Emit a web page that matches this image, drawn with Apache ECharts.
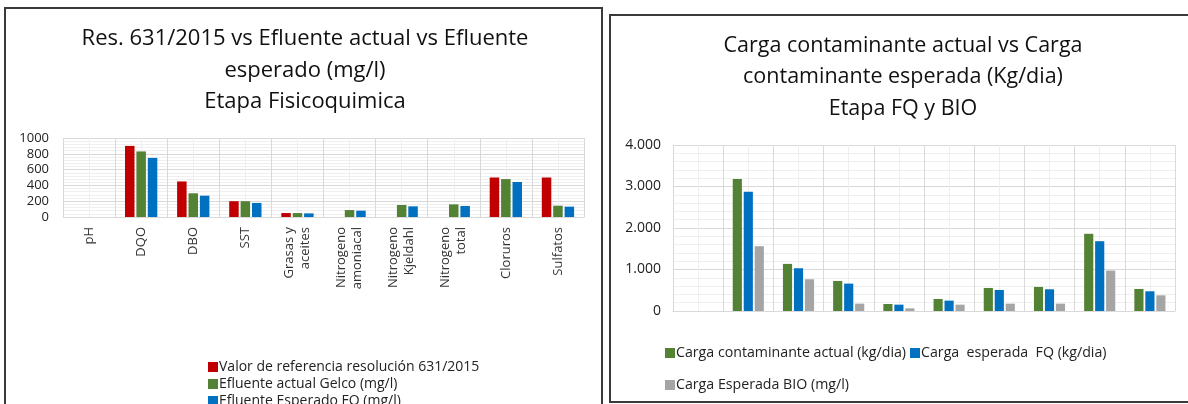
<!DOCTYPE html>
<html><head><meta charset="utf-8">
<script src="https://cdn.jsdelivr.net/npm/echarts@6/dist/echarts.min.js"></script>
<style>html,body{margin:0;padding:0;background:#fff}#c{width:1188px;height:404px}</style>
</head><body><div id="c"></div>
<script>
const categories = ['pH','DQO','DBO','SST','Grasas y\naceites','Nitrogeno\namoniacal','Nitrogeno\nKjeldahl','Nitrogeno\ntotal','Cloruros','Sulfatos'];
const leftNames = ['Valor de referencia resolución 631/2015','Efluente actual Gelco (mg/l)','Efluente Esperado FQ (mg/l)'];
const valorReferencia = [null, 900, 450, 200, 50, null, null, null, 500, 500];
const efluenteActual = [null, 830, 300, 200, 50, 88, 152, 160, 480, 143];
const efluenteEsperadoFQ = [null, 748, 270, 178, 46, 80, 135, 140, 443, 131];
const rightNames = ['Carga contaminante actual (kg/dia)','Carga  esperada  FQ (kg/dia)','Carga Esperada BIO (mg/l)'];
const cargaActual = [null, 3180, 1135, 724, 169, 290, 555, 580, 1860, 531];
const cargaEsperadaFQ = [null, 2873, 1030, 660, 153, 250, 507, 523, 1682, 475];
const cargaEsperadaBIO = [null, 1561, 765, 177, 64, 153, 177, 177, 974, 378];
const leftTitle = 'Res. 631/2015 vs Efluente actual vs Efluente\nesperado (mg/l)\nEtapa Fisicoquimica';
const rightTitle = 'Carga contaminante actual vs Carga\ncontaminante esperada (Kg/dia)\nEtapa FQ y BIO';

const FONT = 'Open Sans';
const colors = {red:'#C00000', green:'#548235', blue:'#0070C0', gray:'#A5A5A5'};
const major = '#D9D9D9', minor = '#EFEFEF';
const chart = echarts.init(document.getElementById('c'));
function fmtDot(v){ return String(v).replace(/\B(?=(\d{3})+(?!\d))/g,'.'); }
const bar = (name, data, color, xi, yi) => ({type:'bar', name, data, xAxisIndex:xi, yAxisIndex:yi,
  itemStyle:{color}, barGap:'20%', barCategoryGap:'38%'});
const leg = (names, left, top, size) => ({data:names, left, top, itemWidth:10, itemHeight:10, itemGap:4,
  icon:'rect', textStyle:{fontFamily:FONT, fontSize:size, color:'#222', padding:[0,0,0,-4]}});
chart.setOption({
  animation:false,
  textStyle:{fontFamily:FONT},
  title:[
    {text:leftTitle, left:300, top:18, textAlign:'center',
     textStyle:{fontFamily:FONT, fontSize:22, fontWeight:'normal', color:'#111', lineHeight:31.5}},
    {text:rightTitle, left:898, top:25, textAlign:'center',
     textStyle:{fontFamily:FONT, fontSize:21.5, fontWeight:'normal', color:'#111', lineHeight:31.5}}
  ],
  legend:[
    leg([leftNames[0]], 203, 355, 14),
    leg([leftNames[1]], 203, 372, 14),
    leg([leftNames[2]], 203, 389, 14),
    leg(rightNames.slice(0,2), 660, 341, 14.2),
    leg(rightNames.slice(2), 660, 373, 14.2)
  ],
  grid:[
    {left:63, right:604, top:138, bottom:187},
    {left:673, right:13, top:145, bottom:93}
  ],
  xAxis:[
    {type:'category', data:categories, gridIndex:0,
     axisLine:{lineStyle:{color:major}}, axisTick:{show:false}, splitLine:{show:false},
     axisLabel:{rotate:90, interval:0, fontSize:13, color:'#333', fontFamily:FONT, lineHeight:16, margin:10}},
    {type:'value', gridIndex:0, min:0, max:10, interval:1, position:'top',
     axisLine:{show:false}, axisTick:{show:false}, axisLabel:{show:false},
     splitLine:{show:true, lineStyle:{color:major}},
     minorTick:{show:false, splitNumber:2}, minorSplitLine:{show:true, lineStyle:{color:minor}}},
    {type:'category', data:categories, gridIndex:1,
     axisLine:{lineStyle:{color:major}}, axisTick:{show:false}, splitLine:{show:false},
     axisLabel:{show:false}},
    {type:'value', gridIndex:1, min:0, max:10, interval:1, position:'top',
     axisLine:{show:false}, axisTick:{show:false}, axisLabel:{show:false},
     splitLine:{show:true, lineStyle:{color:major}},
     minorTick:{show:false, splitNumber:2}, minorSplitLine:{show:true, lineStyle:{color:minor}}}
  ],
  yAxis:[
    {type:'value', gridIndex:0, min:0, max:1000, interval:200,
     axisLine:{show:false}, axisTick:{show:false},
     axisLabel:{fontSize:13, color:'#222', fontFamily:FONT, margin:14, formatter:v=>String(v)},
     splitLine:{lineStyle:{color:major}},
     minorTick:{show:false, splitNumber:5}, minorSplitLine:{show:true, lineStyle:{color:minor}}},
    {type:'value', gridIndex:1, min:0, max:4000, interval:1000,
     axisLine:{show:false}, axisTick:{show:false},
     axisLabel:{fontSize:14, color:'#222', fontFamily:FONT, margin:12, formatter:fmtDot},
     splitLine:{lineStyle:{color:major}},
     minorTick:{show:false, splitNumber:5}, minorSplitLine:{show:true, lineStyle:{color:minor}}}
  ],
  series:[
    bar(leftNames[0], valorReferencia, colors.red, 0, 0),
    bar(leftNames[1], efluenteActual, colors.green, 0, 0),
    bar(leftNames[2], efluenteEsperadoFQ, colors.blue, 0, 0),
    bar(rightNames[0], cargaActual, colors.green, 2, 1),
    bar(rightNames[1], cargaEsperadaFQ, colors.blue, 2, 1),
    bar(rightNames[2], cargaEsperadaBIO, colors.gray, 2, 1)
  ],
  graphic:[
    {type:'rect', shape:{x:5, y:8, width:597, height:420}, style:{fill:'none', stroke:'#3a3a3a', lineWidth:2}, z:100},
    {type:'rect', shape:{x:610, y:15, width:600, height:387}, style:{fill:'none', stroke:'#3a3a3a', lineWidth:2}, z:100}
  ]
});
</script></body></html>
